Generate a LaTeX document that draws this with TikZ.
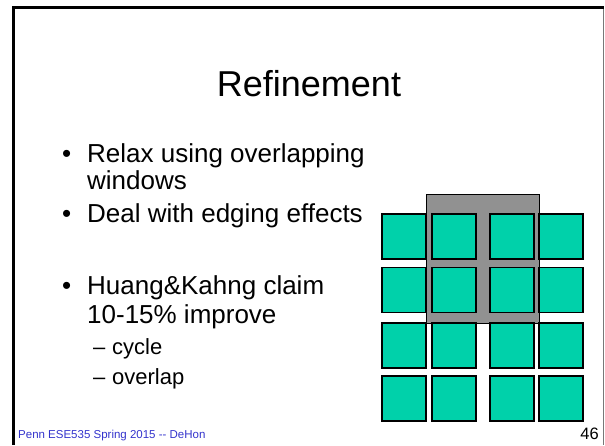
\documentclass[tikz,border=0pt]{standalone}
\usepackage{fontspec}
\setmainfont{Liberation Sans}
\definecolor{teal}{RGB}{0,209,170}
\definecolor{wgray}{RGB}{145,145,145}
\definecolor{footblue}{RGB}{51,51,204}
\definecolor{rgray}{RGB}{120,120,120}
\begin{document}
\begin{tikzpicture}[x=1pt,y=-1pt,
  sq/.style={draw=black,line width=1.2pt,fill=teal,minimum width=44pt,minimum height=45pt,inner sep=0pt,outer sep=0pt},
  win/.style={draw=black,line width=1pt,fill=wgray},
  body/.style={anchor=base west,inner sep=0pt,font=\fontsize{26}{31}\selectfont},
  sub/.style={anchor=base west,inner sep=0pt,font=\fontsize{22}{26}\selectfont}]
\useasboundingbox (0,0) rectangle (605,445);
% frame
\draw[line width=3pt,black] (12,7.5) -- (604,7.5);
\draw[line width=2.5pt,black] (13.3,6) -- (13.3,445);
\draw[line width=1.2pt,rgray] (603.4,9) -- (603.4,445);
% title
\node[anchor=base,inner sep=0pt,font=\fontsize{36}{40}\selectfont] (title) at (309,96.5) {Refinement};
% bullets
\node[body] (b1) at (62,162) {•};
\node[body] (t1) at (87,162) {Relax using overlapping};
\node[body] (t1b) at (87,189) {windows};
\node[body] (b2) at (62,222.5) {•};
\node[body] (t2) at (87,222.5) {Deal with edging effects};
\node[body] (b3) at (62,294) {•};
\node[body] (t3) at (87,294) {Huang\&Kahng claim};
\node[body] (t3b) at (87,323) {10-15\% improve};
\node[sub] (d1) at (93,354) {–};
\node[sub] (s1) at (112,354) {cycle};
\node[sub] (d2) at (93,384) {–};
\node[sub] (s2) at (112,384) {overlap};
% window
\draw[win] (426,194) rectangle (539,323);
% squares
\foreach \c/\x in {1/404,2/454,3/512,4/561}{
  \foreach \r/\y in {1/236.5,2/290,3/345.5,4/398.5}{
    \node[sq] (q\r\c) at (\x,\y) {};
  }
}
% footer
\node[anchor=base west,inner sep=0pt,text=footblue,font=\fontsize{11.5}{13}\selectfont] (foot) at (18,438) {Penn ESE535 Spring 2015 -{}- DeHon};
\node[anchor=base east,inner sep=0pt,font=\fontsize{16.5}{18}\selectfont] (pg) at (599,439) {46};
\end{tikzpicture}
\end{document}
